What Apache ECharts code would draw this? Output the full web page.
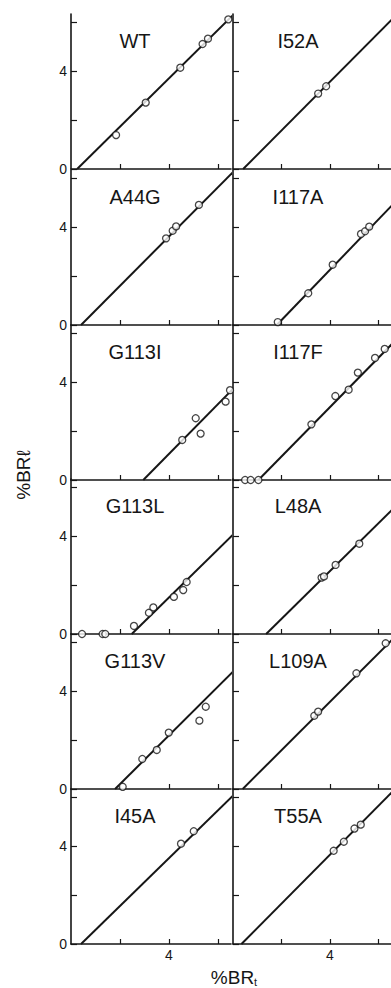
<!DOCTYPE html>
<html>
<head>
<meta charset="utf-8">
<script src="https://cdn.jsdelivr.net/npm/echarts@6/dist/echarts.min.js"></script>
<style>
  html, body { margin: 0; padding: 0; background: #fff; }
  #chart { width: 391px; height: 988px; }
</style>
</head>
<body>
<div id="chart"></div>
<script>
// %BRl against %BRt, one small panel per protein (wild type and mutants)
const panelNames = ['WT', 'I52A', 'A44G', 'I117A', 'G113I', 'I117F', 'G113L', 'L48A', 'G113V', 'L109A', 'I45A', 'T55A'];

const ptsWT    = [[1.84, 1.39], [3.05, 2.72], [4.46, 4.15], [5.37, 5.12], [5.59, 5.34], [6.42, 6.13]];
const ptsI52A  = [[3.52, 3.09], [3.85, 3.39]];
const ptsA44G  = [[3.88, 3.55], [4.15, 3.86], [4.29, 4.04], [5.22, 4.92]];
const ptsI117A = [[1.85, 0.12], [3.11, 1.30], [4.12, 2.47], [5.29, 3.73], [5.46, 3.84], [5.63, 4.03]];
const ptsG113I = [[4.54, 1.64], [5.09, 2.53], [5.29, 1.90], [6.31, 3.21], [6.49, 3.68]];
const ptsI117F = [[0.50, 0], [0.73, 0], [1.05, 0], [3.24, 2.28], [4.23, 3.44], [4.78, 3.70], [5.16, 4.40], [5.87, 5.00], [6.27, 5.37]];
const ptsG113L = [[0.45, 0], [1.29, 0], [1.40, 0], [2.57, 0.33], [3.18, 0.87], [3.36, 1.09], [4.20, 1.52], [4.58, 1.80], [4.72, 2.13]];
const ptsL48A  = [[3.66, 2.31], [3.76, 2.36], [4.24, 2.83], [5.22, 3.70]];
const ptsG113V = [[2.11, 0.09], [2.91, 1.23], [3.50, 1.60], [3.99, 2.31], [5.24, 2.80], [5.50, 3.37]];
const ptsL109A = [[3.36, 3.00], [3.52, 3.17], [5.10, 4.74], [6.31, 5.97]];
const ptsI45A  = [[4.49, 4.11], [5.01, 4.62]];
const ptsT55A  = [[4.16, 3.82], [4.58, 4.19], [5.02, 4.73], [5.28, 4.89]];

// fitted lines: x-intercept on the %BRt axis and the far end point
const fitFrom = [0.25, 0.42, 0.41, 1.81, 2.95, 1.05, 2.48, 1.37, 1.80, 0.40, 0.41, 0.35];
const fitTo = [[6.6, 6.29], [6.6, 6.16], [6.6, 6.25], [6.6, 4.93], [6.6, 3.72], [6.6, 5.60],
               [6.6, 4.06], [6.6, 5.11], [6.6, 4.80], [6.6, 6.14], [6.6, 6.07], [6.6, 6.25]];

const yTicks = [0, 2, 4, 6];
const yTickLabels = [0, 4];
const xTicks = [2, 4, 6];
const xTickLabels = [4];

const panelPoints = [ptsWT, ptsI52A, ptsA44G, ptsI117A, ptsG113I, ptsI117F,
                     ptsG113L, ptsL48A, ptsG113V, ptsL109A, ptsI45A, ptsT55A];

// layout
const rowZero = [169, 325, 480, 634, 789, 944];
const colLeft = [71, 233];
const panelW = 160, panelH = 155;
const xMax = 6.53, yMax = 6.35;
const ink = '#161616';
const font = '"Liberation Sans", Arial, Helvetica, sans-serif';

const grids = [], xAxes = [], yAxes = [], series = [], graphics = [];

panelNames.forEach(function (name, i) {
  const row = Math.floor(i / 2), col = i % 2;
  const isBottom = row === rowZero.length - 1;
  grids.push({ left: colLeft[col], top: rowZero[row] - panelH, width: panelW, height: panelH });
  xAxes.push({
    gridIndex: i, type: 'value', min: 0, max: xMax,
    axisLine: { show: true, onZero: false, lineStyle: { color: ink, width: 1.6 } },
    axisTick: { show: true, inside: true, length: 5, customValues: xTicks, lineStyle: { color: ink, width: 1.2 } },
    axisLabel: { show: isBottom, customValues: xTickLabels, margin: 4, fontSize: 14, color: ink, fontFamily: font },
    splitLine: { show: false }
  });
  yAxes.push({
    gridIndex: i, type: 'value', min: 0, max: yMax,
    axisLine: { show: true, onZero: false, lineStyle: { color: ink, width: 1.6 } },
    axisTick: { show: true, inside: true, length: 6, customValues: yTicks, lineStyle: { color: ink, width: 1.2 } },
    axisLabel: { show: col === 0, customValues: yTickLabels, margin: 4, fontSize: 14, color: ink, fontFamily: font },
    splitLine: { show: false }
  });
  series.push({
    type: 'line', xAxisIndex: i, yAxisIndex: i,
    data: [[fitFrom[i], 0], fitTo[i]],
    showSymbol: false, clip: true, silent: true,
    lineStyle: { color: ink, width: 2 }, z: 2
  });
  series.push({
    type: 'scatter', xAxisIndex: i, yAxisIndex: i,
    data: panelPoints[i], symbol: 'circle', symbolSize: 7,
    itemStyle: { color: '#fff', borderColor: ink, borderWidth: 1.3 }, z: 3
  });
  graphics.push({
    type: 'text', x: col === 0 ? 135 : 298, y: rowZero[row] - 128,
    style: { text: name, fontSize: 20, fontFamily: font, fill: ink, align: 'center', verticalAlign: 'middle' }
  });
});

// axis titles
graphics.push({
  type: 'text', x: 23, y: 475, rotation: Math.PI / 2,
  style: { text: '%BRℓ', fontSize: 19, fontFamily: font, fill: ink, align: 'center', verticalAlign: 'middle' }
});
graphics.push({
  type: 'text', x: 234, y: 987,
  style: {
    text: '%BR{sub|t}', fontSize: 19, fontFamily: font, fill: ink, align: 'center', verticalAlign: 'bottom',
    rich: { sub: { fontSize: 11, fontFamily: font, fill: ink, verticalAlign: 'bottom' } }
  }
});

const chart = echarts.init(document.getElementById('chart'), null, { renderer: 'svg' });
chart.setOption({
  animation: false,
  backgroundColor: '#fff',
  grid: grids,
  xAxis: xAxes,
  yAxis: yAxes,
  series: series,
  graphic: graphics
});
</script>
</body>
</html>
